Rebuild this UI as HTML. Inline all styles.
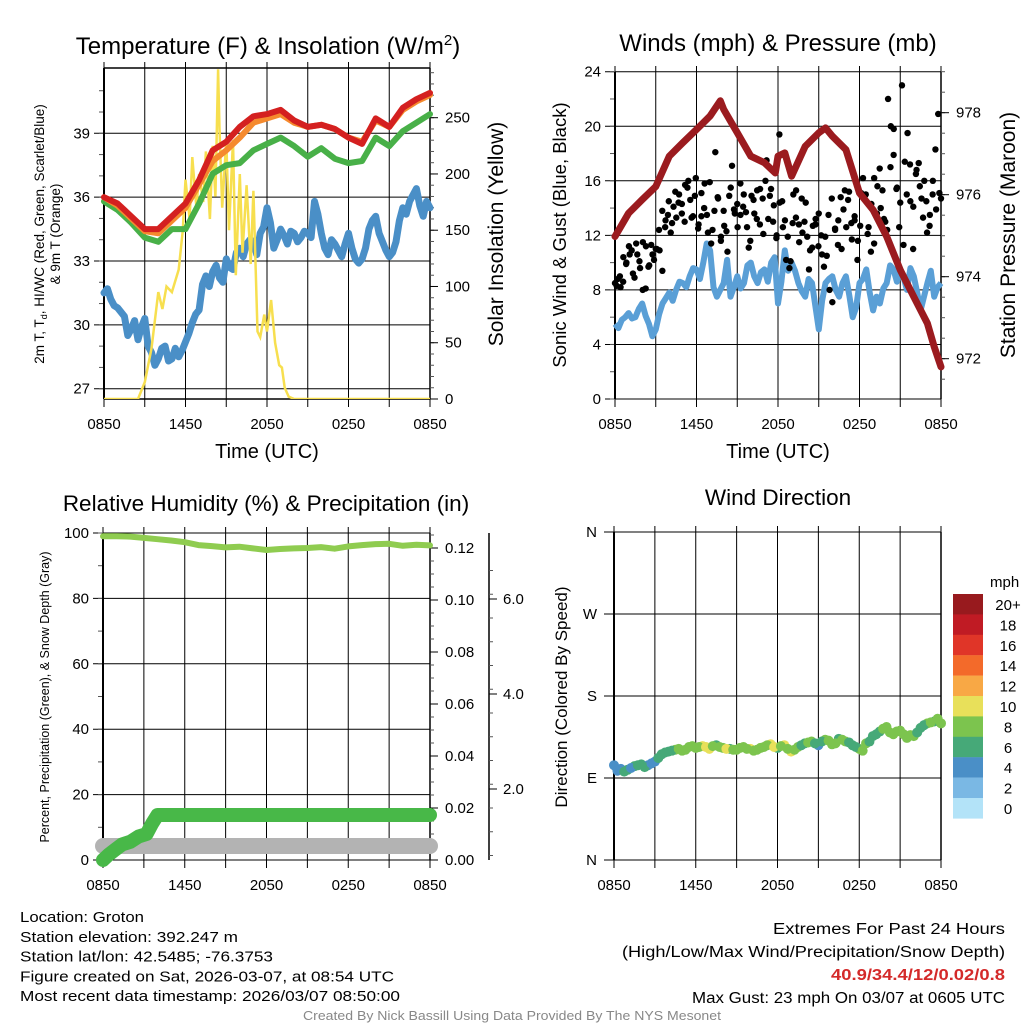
<!DOCTYPE html>
<html><head><meta charset="utf-8"><style>
body{margin:0;background:#fff}
svg{display:block;font-family:"Liberation Sans",sans-serif}
</style></head><body>
<svg id="c" width="1024" height="1024" viewBox="0 0 1024 1024"></svg>
<script>
// ---------- data ----------
const xLabels = ["0850","1450","2050","0250","0850"];
const tH = [0,1,2,3,4,5,6,7,8,9,10,11,12,13,14,15,16,17,18,19,20,21,22,23,24];
const tempRed = [36.0,35.7,35.1,34.5,34.5,35.1,35.7,36.8,38.2,38.6,39.3,39.8,39.9,40.1,39.6,39.3,39.4,39.2,38.8,38.5,39.7,39.3,40.2,40.6,40.9];
const tempOrange = [36.0,35.6,35.0,34.4,34.3,34.9,35.5,36.6,37.7,38.2,38.8,39.5,39.7,39.9,39.5,39.3,39.4,39.2,38.8,38.6,39.6,39.3,40.1,40.5,40.8];
const tempGreen = [35.8,35.4,34.8,34.1,33.9,34.5,34.5,35.7,37.1,37.5,37.6,38.2,38.5,38.8,38.4,37.9,38.3,37.8,37.6,37.7,38.8,38.4,39.1,39.5,39.9];
const tHalf = [0,0.5,1,1.5,2,2.5,3,3.5,4,4.5,5,5.5,6,6.5,7,7.5,8,8.5,9,9.5,10,10.5,11,11.5,12,12.5,13,13.5,14,14.5,15,15.5,16,16.5,17,17.5,18,18.5,19,19.5,20,20.5,21,21.5,22,22.5,23,23.5,24];
const tQuarter = [0.25,0.75,1.25,1.75,2.25,2.75,3.25,3.75,4.25,4.75,5.25,5.75,6.25,6.75,7.25,7.75,8.25,8.75,9.25,9.75,10.25,10.75,11.25,11.75,12.25,12.75,13.25,13.75,14.25,14.75,15.25,15.75,16.25,16.75,17.25,17.75,18.25,18.75,19.25,19.75,20.25,20.75,21.25,21.75,22.25,22.75,23.25,23.75];
const dewBlue = [31.5,31.2,30.8,30.4,29.8,29.3,30.3,28.7,28.4,29.0,28.4,28.5,29.2,30.1,30.7,32.3,32.5,32.2,33.1,32.6,33.6,33.8,33.9,34.3,35.5,33.6,34.5,33.8,34.3,34.1,34.3,35.8,34.3,33.3,33.8,33.2,34.3,33.1,33.1,34.5,35.1,33.9,33.2,33.9,35.5,35.8,36.4,35.1,35.5];
const dewBlue2 = [31.7,30.9,30.6,29.5,30.2,29.9,29.0,28.1,28.9,28.3,28.9,28.8,29.6,30.5,31.9,31.8,32.8,32.0,32.7,33.4,33.2,34.0,33.3,34.6,34.8,34.0,34.2,34.4,33.9,34.4,34.1,35.2,33.6,34.0,33.5,33.8,33.6,32.9,33.6,34.9,34.3,33.5,33.4,34.9,35.2,36.1,35.6,35.8];
const solT = [0,2.5,3,3.5,4,4.3,4.6,5,5.5,5.8,6,6.3,6.5,6.8,7,7.3,7.5,7.8,8,8.2,8.4,8.5,8.7,9,9.2,9.5,9.7,10,10.2,10.5,10.8,11,11.3,11.5,11.8,12,12.3,12.6,12.9,13.1,13.3,13.6,14,24];
const solVal = [0,0,15,45,95,80,100,95,115,150,195,160,215,170,200,175,220,160,225,180,293,240,170,230,150,230,110,200,130,190,120,185,60,55,75,60,88,50,30,28,10,2,0,0];
const pressT = [0,1,2,3,4,5,6,7,7.75,8,9,10,11,11.8,12,12.5,13,14,15,15.5,16,17,18,19,20,21,22,23,23.5,24];
const pressVal = [974.98,975.55,975.88,976.2,976.94,977.27,977.59,977.92,978.29,978.08,977.51,976.94,976.78,976.53,976.94,977.02,976.45,977.18,977.51,977.63,977.43,977.1,976.04,975.63,974.98,974.16,973.51,972.86,972.29,971.8];
const windBlue = [5.5,5.8,6.3,6.0,7.0,5.5,5.1,7.0,7.8,8.0,8.5,9.0,9.5,10.0,10.9,7.5,8.5,7.5,9.0,8.5,10.0,8.5,9.5,10.0,7.0,10.9,10.0,8.5,7.5,8.5,5.1,8.5,9.0,7.5,9.0,6.0,8.5,9.5,6.5,7.0,8.5,9.5,9.5,8.0,9.0,6.5,8.5,7.5,8.5];
const windBlue2 = [5.2,6.0,5.9,6.6,6.1,4.6,6.2,7.4,7.2,8.6,8.2,9.6,8.8,11.4,8.2,8.0,10.2,8.2,8.1,9.8,9.0,9.3,8.6,10.4,8.6,9.4,9.4,7.9,8.8,6.8,7.2,8.8,8.0,8.5,7.6,6.7,8.8,7.8,7.5,8.1,9.8,8.6,8.9,9.6,7.8,7.5,9.4,8.2];
const gust = [8.5,8.8,8.2,10.4,9.9,11.2,10.9,8.9,10.6,9.6,11.5,8.1,9.7,11.3,10.2,11.0,10.9,9.4,12.6,13.5,12.2,14.1,13.3,15.0,14.3,13.0,15.5,14.6,13.4,16.2,12.8,15.1,14.0,13.5,15.9,12.4,18.1,14.7,11.6,13.8,12.3,14.9,17.1,13.6,12.6,15.8,14.1,13.7,11.1,14.9,13.6,15.3,12.8,14.7,16.0,13.2,15.4,14.2,12.0,19.4,14.5,13.1,11.9,10.1,15.0,15.3,12.8,14.7,13.0,11.9,10.9,12.7,13.2,11.2,12.0,9.7,10.5,8.0,7.1,12.4,11.3,14.8,13.9,12.6,15.2,11.7,13.1,10.2,12.7,16.2,15.0,12.6,14.3,11.4,13.6,16.9,15.3,13.0,22.0,20.0,17.9,15.4,12.6,23.0,17.4,19.5,14.5,11.0,16.5,17.3,14.7,16.0,12.2,13.5,15.0,18.3,20.9,14.7];
const gust2 = [8.3,9.0,8.6,10.0,10.6,9.2,11.4,10.1,8.0,11.2,9.8,10.6,11.0,12.4,13.8,13.1,14.5,12.9,15.2,14.4,13.6,15.7,16.0,13.3,14.9,12.5,13.4,15.8,12.2,11.4,13.8,14.8,11.9,12.7,10.8,15.5,13.9,14.3,13.5,15.0,12.6,11.6,14.6,13.2,15.4,12.1,17.5,14.9,13.0,11.8,14.4,12.6,10.2,9.6,12.9,13.3,11.5,12.2,14.4,9.5,11.1,12.8,13.6,10.6,11.9,13.5,14.7,12.5,13.1,11.0,15.3,14.6,12.9,13.4,11.6,15.1,14.8,12.1,10.8,16.2,15.6,14.0,13.2,12.4,17.0,19.8,15.5,14.4,11.3,15.0,17.2,14.1,16.8,15.6,13.3,14.5,12.7,16.0,13.9,15.1];
const rhVal = [99,99,98.9,98.5,98.1,97.7,97.2,96.3,96.0,95.6,95.8,95.3,94.8,95.1,95.3,95.4,95.7,95.2,95.9,96.3,96.6,96.7,96.1,96.4,96.2];
const precipT = [0,0.4,0.9,1.4,2.0,2.6,3.2,3.6,4.0,24];
const precipVal = [0,0.002,0.004,0.006,0.007,0.009,0.010,0.014,0.0173,0.0173];
const snowDepth = [0.8,0.8];
const snowT = [0,24];
const dirVal = [104,100,99,103,105,104,108,116,119,121,120,124,123,125,122,126,123,122,121,124,122,121,124,127,123,126,119,124,128,130,126,132,127,133,130,126,122,128,136,141,146,138,142,134,136,145,150,152,150];
const dirVal2 = [98,97,101,104,102,106,112,118,120,122,121,125,124,124,125,124,122,121,123,122,120,123,126,124,125,122,121,126,129,128,130,131,128,132,129,124,120,130,138,144,140,141,138,137,140,148,151,155];
const legendLabels = ["20+","18","16","14","12","10","8","6","4","2","0"];
const legendColors = ["#981a1e","#c01b24","#e03528","#f36a2a","#f8a845","#e8e05a","#7cc44e","#46a978","#4a8fc7","#7ab8e4","#b3e3f8"];

// ---------- helpers ----------
const svg = document.getElementById('c');
const NS = 'http://www.w3.org/2000/svg';
function mk(tag, attrs, parent){ const e=document.createElementNS(NS,tag); for(const k in attrs) e.setAttribute(k,attrs[k]); (parent||svg).appendChild(e); return e; }
function txt(s, attrs, parent){ const e=mk('text',attrs,parent); e.textContent=s; return e; }
function lin(a,b,c,d){ return (v)=>c+(v-a)*(d-c)/(b-a); }

function frame(P, name){
  const g = mk('g',{});
  
  
  for(let h=0;h<=24;h+=3){
    const x=P.xs(h);
    mk('line',{x1:x,y1:P.y0-6,x2:x,y2:P.y1+8,stroke:'#000','stroke-width':1},g);
  }
  xLabels.forEach((l,i)=>{
    const t = txt(l,{x:P.xs(i*6),y:P.y1+30,'font-size':15,'text-anchor':'middle'},g);
    
    
  });
  return g;
}
function hgrid(P, vals, sc, g){
  vals.forEach(v=>mk('line',{x1:P.x0-10,y1:sc(v),x2:P.x1,y2:sc(v),stroke:'#000','stroke-width':1},g));
}
function leftAxis(P, major, minor, sc, fmt, g){
  minor.forEach(v=>mk('line',{x1:P.x0-5,y1:sc(v),x2:P.x0,y2:sc(v),stroke:'#555','stroke-width':1},g));
  major.forEach(v=>{ const t=txt(fmt(v),{x:P.x0-14,y:sc(v)+5,'font-size':15,'text-anchor':'end'},g);
     });
  mk('line',{x1:P.x0,y1:P.y0,x2:P.x0,y2:P.y1,stroke:'#000','stroke-width':2},g);
}
function rightAxis(x, y0, y1, major, minor, sc, fmt, g, len){
  mk('line',{x1:x,y1:y0,x2:x,y2:y1,stroke:'#000','stroke-width':1.5},g);
  minor.forEach(v=>mk('line',{x1:x,y1:sc(v),x2:x+4,y2:sc(v),stroke:'#555','stroke-width':1},g));
  major.forEach(v=>{ mk('line',{x1:x,y1:sc(v),x2:x+(len||8),y2:sc(v),stroke:'#000','stroke-width':1},g);
    const t=txt(fmt(v),{x:x+15,y:sc(v)+5,'font-size':15},g);
     });
}
function pathFrom(xsArr, ysArr, xs, ys){ return xsArr.map((t,i)=>(i?'L':'M')+xs(t).toFixed(1)+','+ys(ysArr[i]).toFixed(1)).join(''); }
function mergePath(tA,vA,tB,vB,xs,ys){ const pts=[]; tA.forEach((t,i)=>pts.push([t,vA[i]])); tB.forEach((t,i)=>pts.push([t,vB[i]])); pts.sort((a,b)=>a[0]-b[0]); return pts.map((p,i)=>(i?'L':'M')+xs(p[0]).toFixed(1)+','+ys(p[1]).toFixed(1)).join(''); }
function range(a,b,s){ const r=[]; for(let v=a; v<=b+1e-9; v+=s) r.push(+v.toFixed(4)); return r; }
function vlabel(s, x, y, size, name){ const t=txt(s,{x:x,y:y,'font-size':size,'text-anchor':'middle',transform:`rotate(-90 ${x} ${y})`});   return t; }

// ---------- Panel 1 ----------
{
  const P={x0:104,x1:430,y0:68,y1:399}; P.xs=lin(0,24,P.x0,P.x1);
  const ty=lin(27,39,388.7,133.3), sy=lin(0,250,399,117.7);
  const g=frame(P,'temperature-panel');
  hgrid(P,[27,30,33,36,39],ty,g);
  mk('line',{x1:P.x0,y1:P.y0,x2:P.x1,y2:P.y0,stroke:'#000','stroke-width':1.5},g);
  mk('line',{x1:P.x0,y1:P.y1,x2:P.x1,y2:P.y1,stroke:'#000','stroke-width':1.5},g);
  leftAxis(P,[27,30,33,36,39],range(27,41,1),ty,v=>String(v),g);
  rightAxis(P.x1,P.y0,P.y1,[0,50,100,150,200,250],range(0,290,10),sy,v=>String(v),g);
  const cl=mk('clipPath',{id:'cp1'}); mk('rect',{x:P.x0,y:P.y0-3,width:P.x1-P.x0+4,height:P.y1-P.y0+3},cl);
  const s1=mk('path',{d:mergePath(tHalf,dewBlue,tQuarter,dewBlue2,P.xs,ty),fill:'none',stroke:'#4a8fc7','stroke-width':7,'stroke-linejoin':'round','stroke-linecap':'round'},g);  
  const s2=mk('path',{d:pathFrom(solT,solVal,P.xs,sy),fill:'none',stroke:'#f7df4f','stroke-width':2.5,'clip-path':'url(#cp1)'},g);  
  const s3=mk('path',{d:pathFrom(tH,tempGreen,P.xs,ty),fill:'none',stroke:'#48b048','stroke-width':6,'stroke-linejoin':'round','stroke-linecap':'round'},g);  
  const s4=mk('path',{d:pathFrom(tH,tempOrange,P.xs,ty),fill:'none',stroke:'#f58a2e','stroke-width':6,'stroke-linejoin':'round','stroke-linecap':'round'},g);  
  const s5=mk('path',{d:pathFrom(tH,tempRed,P.xs,ty),fill:'none',stroke:'#d42020','stroke-width':6,'stroke-linejoin':'round','stroke-linecap':'round'},g);  
  const tt=txt('',{x:268,y:54,'font-size':24,'text-anchor':'middle'}); tt.innerHTML='Temperature (F) &amp; Insolation (W/m<tspan dy="-9" font-size="15">2</tspan><tspan dy="9">)</tspan>';
   
  const xt=txt('Time (UTC)',{x:267,y:458,'font-size':20,'text-anchor':'middle'});  
  const l1=txt('',{x:44,y:234,'font-size':13.5,'text-anchor':'middle',transform:'rotate(-90 44 234)'}); l1.innerHTML='2m T, T<tspan dy="3" font-size="9">d</tspan><tspan dy="-3">, HI/WC (Red, Green, Scarlet/Blue)</tspan>';
   
  vlabel('& 9m T (Orange)',60,234,13.5,'left-axis-title-2');
  vlabel('Solar Insolation (Yellow)',503,234,21,'right-axis-title');
}

// ---------- Panel 2 ----------
{
  const P={x0:615,x1:941,y0:72,y1:399}; P.xs=lin(0,24,P.x0,P.x1);
  const wy=lin(0,24,399,71.7), py=lin(974,978,276.7,112.7);
  const g=frame(P,'winds-panel');
  hgrid(P,[0,4,8,12,16,20,24],wy,g);
  leftAxis(P,[0,4,8,12,16,20,24],range(0,24,2),wy,v=>String(v),g);
  rightAxis(P.x1,P.y0,P.y1,[972,974,976,978],range(971.5,979,0.5),py,v=>String(v),g);
  const s1=mk('path',{d:mergePath(tHalf,windBlue,tQuarter,windBlue2,P.xs,wy),fill:'none',stroke:'#5a9fd6','stroke-width':6,'stroke-linejoin':'round'},g);  
  gust.forEach((v,i)=>{ const c=mk('circle',{cx:P.xs(i*24/(gust.length-1)),cy:wy(v),r:3.2,fill:'#000'},g);
      });
  gust2.forEach((v,i)=>{ const c=mk('circle',{cx:P.xs((i+0.5)*24/gust2.length),cy:wy(v),r:3.2,fill:'#000'},g);
      });
  const s2=mk('path',{d:pathFrom(pressT,pressVal,P.xs,py),fill:'none',stroke:'#9b1b1f','stroke-width':7,'stroke-linejoin':'round','stroke-linecap':'round'},g);  
  const tt=txt('Winds (mph) & Pressure (mb)',{x:778,y:51,'font-size':24,'text-anchor':'middle'});  
  const xt=txt('Time (UTC)',{x:778,y:458,'font-size':20,'text-anchor':'middle'});  
  vlabel('Sonic Wind & Gust (Blue, Black)',566,235,18.5,'left-axis-title');
  vlabel('Station Pressure (Maroon)',1015,235,21,'right-axis-title');
}

// ---------- Panel 3 ----------
{
  const P={x0:103,x1:430,y0:533,y1:860}; P.xs=lin(0,24,P.x0,P.x1);
  const ry=lin(0,100,860,533), qy=lin(0,0.12,860,548), dy=lin(2,6,789,599);
  const g=frame(P,'humidity-panel');
  hgrid(P,[0,20,40,60,80,100],ry,g);
  leftAxis(P,[0,20,40,60,80,100],range(0,100,10),ry,v=>String(v),g);
  rightAxis(P.x1,P.y0,P.y1,[0,0.02,0.04,0.06,0.08,0.10,0.12],range(0,0.126,0.005),qy,v=>v.toFixed(2),g);
  const sg=mk('g',{});  
  mk('line',{x1:489,y1:533,x2:489,y2:860,stroke:'#000','stroke-width':1.5},sg);
  range(0.6,7,0.5).forEach(v=>{ if(dy(v)>=533&&dy(v)<=860) mk('line',{x1:489,y1:dy(v),x2:493,y2:dy(v),stroke:'#555'},sg);});
  [2,4,6].forEach(v=>{ mk('line',{x1:489,y1:dy(v),x2:497,y2:dy(v),stroke:'#000'},sg); txt(v.toFixed(1),{x:503,y:dy(v)+5,'font-size':15},sg);});
  const s0=mk('path',{d:pathFrom(snowT,snowDepth,P.xs,dy),fill:'none',stroke:'#b3b3b3','stroke-width':16,'stroke-linecap':'round'},g);  
  const s1=mk('path',{d:pathFrom(precipT,precipVal,P.xs,qy),fill:'none',stroke:'#48b848','stroke-width':14,'stroke-linejoin':'round','stroke-linecap':'round'},g);  
  const s2=mk('path',{d:pathFrom(tH,rhVal,P.xs,ry),fill:'none',stroke:'#8fcc50','stroke-width':6,'stroke-linejoin':'round','stroke-linecap':'round'},g);  
  const tt=txt('Relative Humidity (%) & Precipitation (in)',{x:266,y:511,'font-size':22.5,'text-anchor':'middle'});  
  vlabel('Percent, Precipitation (Green), & Snow Depth (Gray)',49,697,12.5,'left-axis-title');
}

// ---------- Panel 4 ----------
{
  const P={x0:614,x1:941,y0:532,y1:860}; P.xs=lin(0,24,P.x0,P.x1);
  const dyS=lin(0,360,860,532);
  const g=frame(P,'wind-direction-panel');
  hgrid(P,[0,90,180,270,360],dyS,g);
  mk('line',{x1:P.x0,y1:P.y0,x2:P.x0,y2:P.y1,stroke:'#000','stroke-width':2},g);
  mk('line',{x1:P.x1,y1:P.y0,x2:P.x1,y2:P.y1,stroke:'#000','stroke-width':1.5},g);
  ['N','E','S','W','N'].forEach((l,i)=>{ const t=txt(l,{x:597,y:dyS(i*90)+5,'font-size':15,'text-anchor':'end'},g);  });
  function colorFor(s){ const idx=Math.min(10,Math.floor(s/2)); return legendColors[10-idx]; }
  dirVal.forEach((d,i)=>{ const c=mk('circle',{cx:P.xs(tHalf[i]),cy:dyS(d),r:5,fill:colorFor(windBlue[i])},g);
      });
  dirVal2.forEach((d,i)=>{ const c=mk('circle',{cx:P.xs(tQuarter[i]),cy:dyS(d),r:5,fill:colorFor(windBlue2[i])},g);
      });
  const tt=txt('Wind Direction',{x:778,y:505,'font-size':22.5,'text-anchor':'middle'});  
  vlabel('Direction (Colored By Speed)',567,697,17,'left-axis-title');
  const lg=mk('g',{});  
  txt('mph',{x:990,y:587,'font-size':15},lg);
  legendColors.forEach((c,i)=>{ const y=594+i*20.4;
    const r=mk('rect',{x:953,y:y,width:30,height:20.6,fill:c},lg);  
    txt(legendLabels[i],{x:1008,y:y+16,'font-size':15,'text-anchor':'middle'},lg);
  });
}

// ---------- footer ----------
const foot=[["Location: Groton",124],["Station elevation: 392.247 m",218],["Station lat/lon: 42.5485; -76.3753",253],["Figure created on Sat, 2026-03-07, at 08:54 UTC",374],["Most recent data timestamp: 2026/03/07 08:50:00",380]];
foot.forEach((f,i)=>{ const t=txt(f[0],{x:20,y:922+i*19.8,'font-size':15,textLength:f[1],lengthAdjust:'spacingAndGlyphs'});  });
const rf=[["Extremes For Past 24 Hours",232,934,'#000','normal'],["(High/Low/Max Wind/Precipitation/Snow Depth)",383,957,'#000','normal'],["40.9/34.4/12/0.02/0.8",174,980,'#d42a2a','bold'],["Max Gust: 23 mph On 03/07 at 0605 UTC",313,1003,'#000','normal']];
rf.forEach(f=>{ const t=txt(f[0],{x:1005,y:f[2],'font-size':15.5,'text-anchor':'end',fill:f[3],'font-weight':f[4],textLength:f[1],lengthAdjust:'spacingAndGlyphs'});  });
const cr=txt('Created By Nick Bassill Using Data Provided By The NYS Mesonet',{x:512,y:1020,'font-size':12.5,'text-anchor':'middle',fill:'#888',textLength:418,lengthAdjust:'spacingAndGlyphs'});
 
</script>
</body></html>
